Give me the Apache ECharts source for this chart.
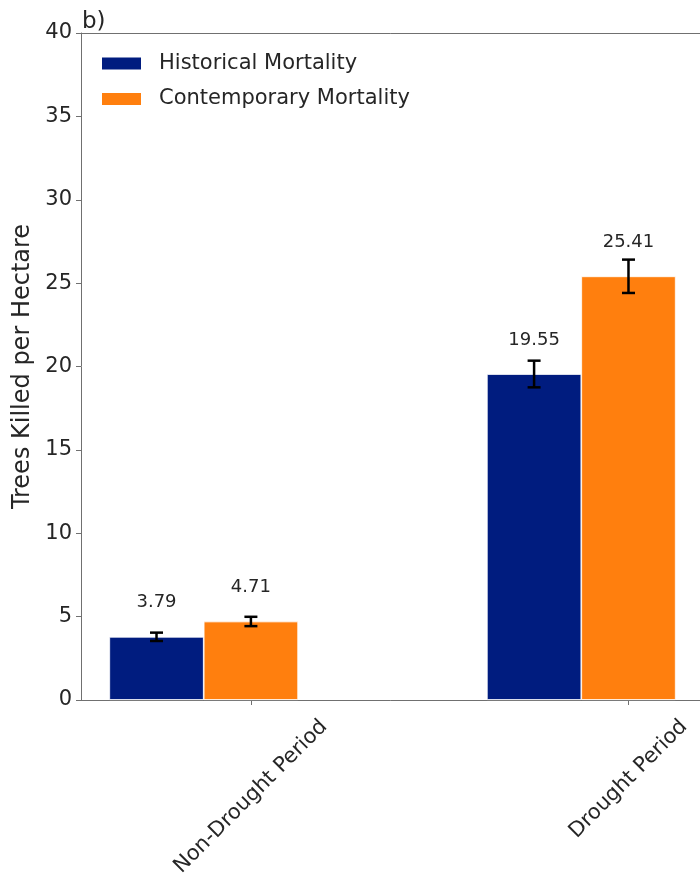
<!DOCTYPE html>
<html>
<head>
<meta charset="utf-8">
<script src="https://cdn.jsdelivr.net/npm/echarts@6/dist/echarts.min.js"></script>
<style>
  html, body { margin: 0; padding: 0; background: #fff; }
  #chart { width: 700px; height: 876px; }
</style>
</head>
<body>
<div id="chart"></div>
<script>
// Mortality by period, trees killed per hectare
const categories = ['Non-Drought Period', 'Drought Period'];
const seriesNames = ['Historical Mortality', 'Contemporary Mortality'];
const historical = [3.79, 19.55];
const contemporary = [4.71, 25.41];
const historicalErr = [0.25, 0.8];
const contemporaryErr = [0.28, 1.0];
const yTicks = [0, 5, 10, 15, 20, 25, 30, 35, 40];

// bar positions: historical sits one bar-width left of the category centre
const barOffset = -0.25;

const font = 'DejaVu Sans';
const textColor = '#262626';
const spine = '#707070';
const catFontSize = 21;

const histData = historical.map((v, i) => [i + barOffset, v]);
const contData = contemporary.map((v, i) => [i, v]);
const catData = categories.map((c, i) => [i, 0]);
const errData = [];
historical.forEach((v, i) => errData.push([i + barOffset, v - historicalErr[i], v + historicalErr[i]]));
contemporary.forEach((v, i) => errData.push([i, v - contemporaryErr[i], v + contemporaryErr[i]]));

// text measurement for the rotated category labels
const measureCtx = document.createElement('canvas').getContext('2d');
measureCtx.font = catFontSize + 'px "' + font + '"';

const chart = echarts.init(document.getElementById('chart'), null, { renderer: 'canvas' });

const barLabel = {
  show: true,
  position: 'top',
  distance: 25,
  fontFamily: font,
  fontSize: 18,
  color: textColor,
  formatter: p => p.value[1].toFixed(2)
};

chart.setOption({
  animation: false,
  backgroundColor: '#ffffff',
  title: {
    text: 'b)',
    left: 77,
    top: 6,
    textStyle: { fontFamily: font, fontSize: 23, fontWeight: 'normal', color: textColor }
  },
  legend: {
    orient: 'vertical',
    left: 95,
    top: 48,
    itemWidth: 41,
    itemHeight: 14,
    itemGap: 14.5,
    icon: 'rect',
    data: seriesNames,
    textStyle: { fontFamily: font, fontSize: 21, lineHeight: 16, color: textColor, padding: [0, 0, 0, 12] }
  },
  grid: {
    left: 81,
    top: 33,
    width: 623,
    height: 667,
    show: false,
    outerBoundsMode: 'none',
    containLabel: false
  },
  xAxis: [
    {
      type: 'value',
      min: -0.45,
      max: 1.2,
      splitLine: { show: false },
      axisLine: { show: true, onZero: false, lineStyle: { color: spine, width: 1 } },
      axisTick: { show: true, customValues: [0, 1], length: 5, lineStyle: { color: spine } },
      axisLabel: { show: false }
    },
    {
      // top frame line
      type: 'value',
      position: 'top',
      min: -0.45,
      max: 1.2,
      splitLine: { show: false },
      axisLine: { show: true, onZero: false, lineStyle: { color: spine, width: 1 } },
      axisTick: { show: false },
      axisLabel: { show: false }
    }
  ],
  yAxis: {
    type: 'value',
    min: yTicks[0],
    max: yTicks[yTicks.length - 1],
    interval: yTicks[1] - yTicks[0],
    name: 'Trees Killed per Hectare',
    nameLocation: 'middle',
    nameRotate: 90,
    nameGap: 38,
    nameTextStyle: { fontFamily: font, fontSize: 24, color: textColor },
    splitLine: { show: false },
    axisLine: { show: true, onZero: false, lineStyle: { color: spine, width: 1 } },
    axisTick: { show: true, length: 5, lineStyle: { color: spine } },
    axisLabel: { fontFamily: font, fontSize: 21, color: textColor, margin: 9 }
  },
  series: [
    {
      name: seriesNames[0],
      type: 'bar',
      data: histData,
      barWidth: 94.5,
      barGap: '-100%',
      itemStyle: { color: '#001c7f', borderColor: '#ffffff', borderWidth: 0.8 },
      label: barLabel,
      z: 2
    },
    {
      name: seriesNames[1],
      type: 'bar',
      data: contData,
      barWidth: 94.5,
      barGap: '-100%',
      itemStyle: { color: '#ff7f0e', borderColor: '#ffffff', borderWidth: 0.8 },
      label: barLabel,
      z: 2
    },
    {
      name: 'error',
      type: 'custom',
      z: 5,
      data: errData,
      renderItem: (params, api) => {
        const x = api.value(0);
        const lo = api.coord([x, api.value(1)]);
        const hi = api.coord([x, api.value(2)]);
        const cap = 6.5;
        const style = { stroke: '#000000', lineWidth: 2.5 };
        return {
          type: 'group',
          children: [
            { type: 'line', shape: { x1: lo[0], y1: lo[1], x2: hi[0], y2: hi[1] }, style },
            { type: 'line', shape: { x1: lo[0] - cap, y1: lo[1], x2: lo[0] + cap, y2: lo[1] }, style },
            { type: 'line', shape: { x1: hi[0] - cap, y1: hi[1], x2: hi[0] + cap, y2: hi[1] }, style }
          ]
        };
      }
    },
    {
      // category labels rotated 45°, bounding box centred under each tick
      name: 'categoryLabels',
      type: 'custom',
      silent: true,
      clip: false,
      z: 5,
      data: catData,
      renderItem: (params, api) => {
        const p = api.coord([api.value(0), api.value(1)]);
        const text = categories[params.dataIndex];
        const w = measureCtx.measureText(text).width;
        const h = catFontSize;
        const boxH = (w + h) / Math.SQRT2;
        const top = p[1] + 16;
        return {
          type: 'text',
          x: p[0],
          y: top + boxH / 2,
          rotation: Math.PI / 4,
          style: {
            text: text,
            fontFamily: font,
            fontSize: catFontSize,
            fill: textColor,
            align: 'center',
            verticalAlign: 'middle'
          }
        };
      }
    }
  ]
});
</script>
</body>
</html>
